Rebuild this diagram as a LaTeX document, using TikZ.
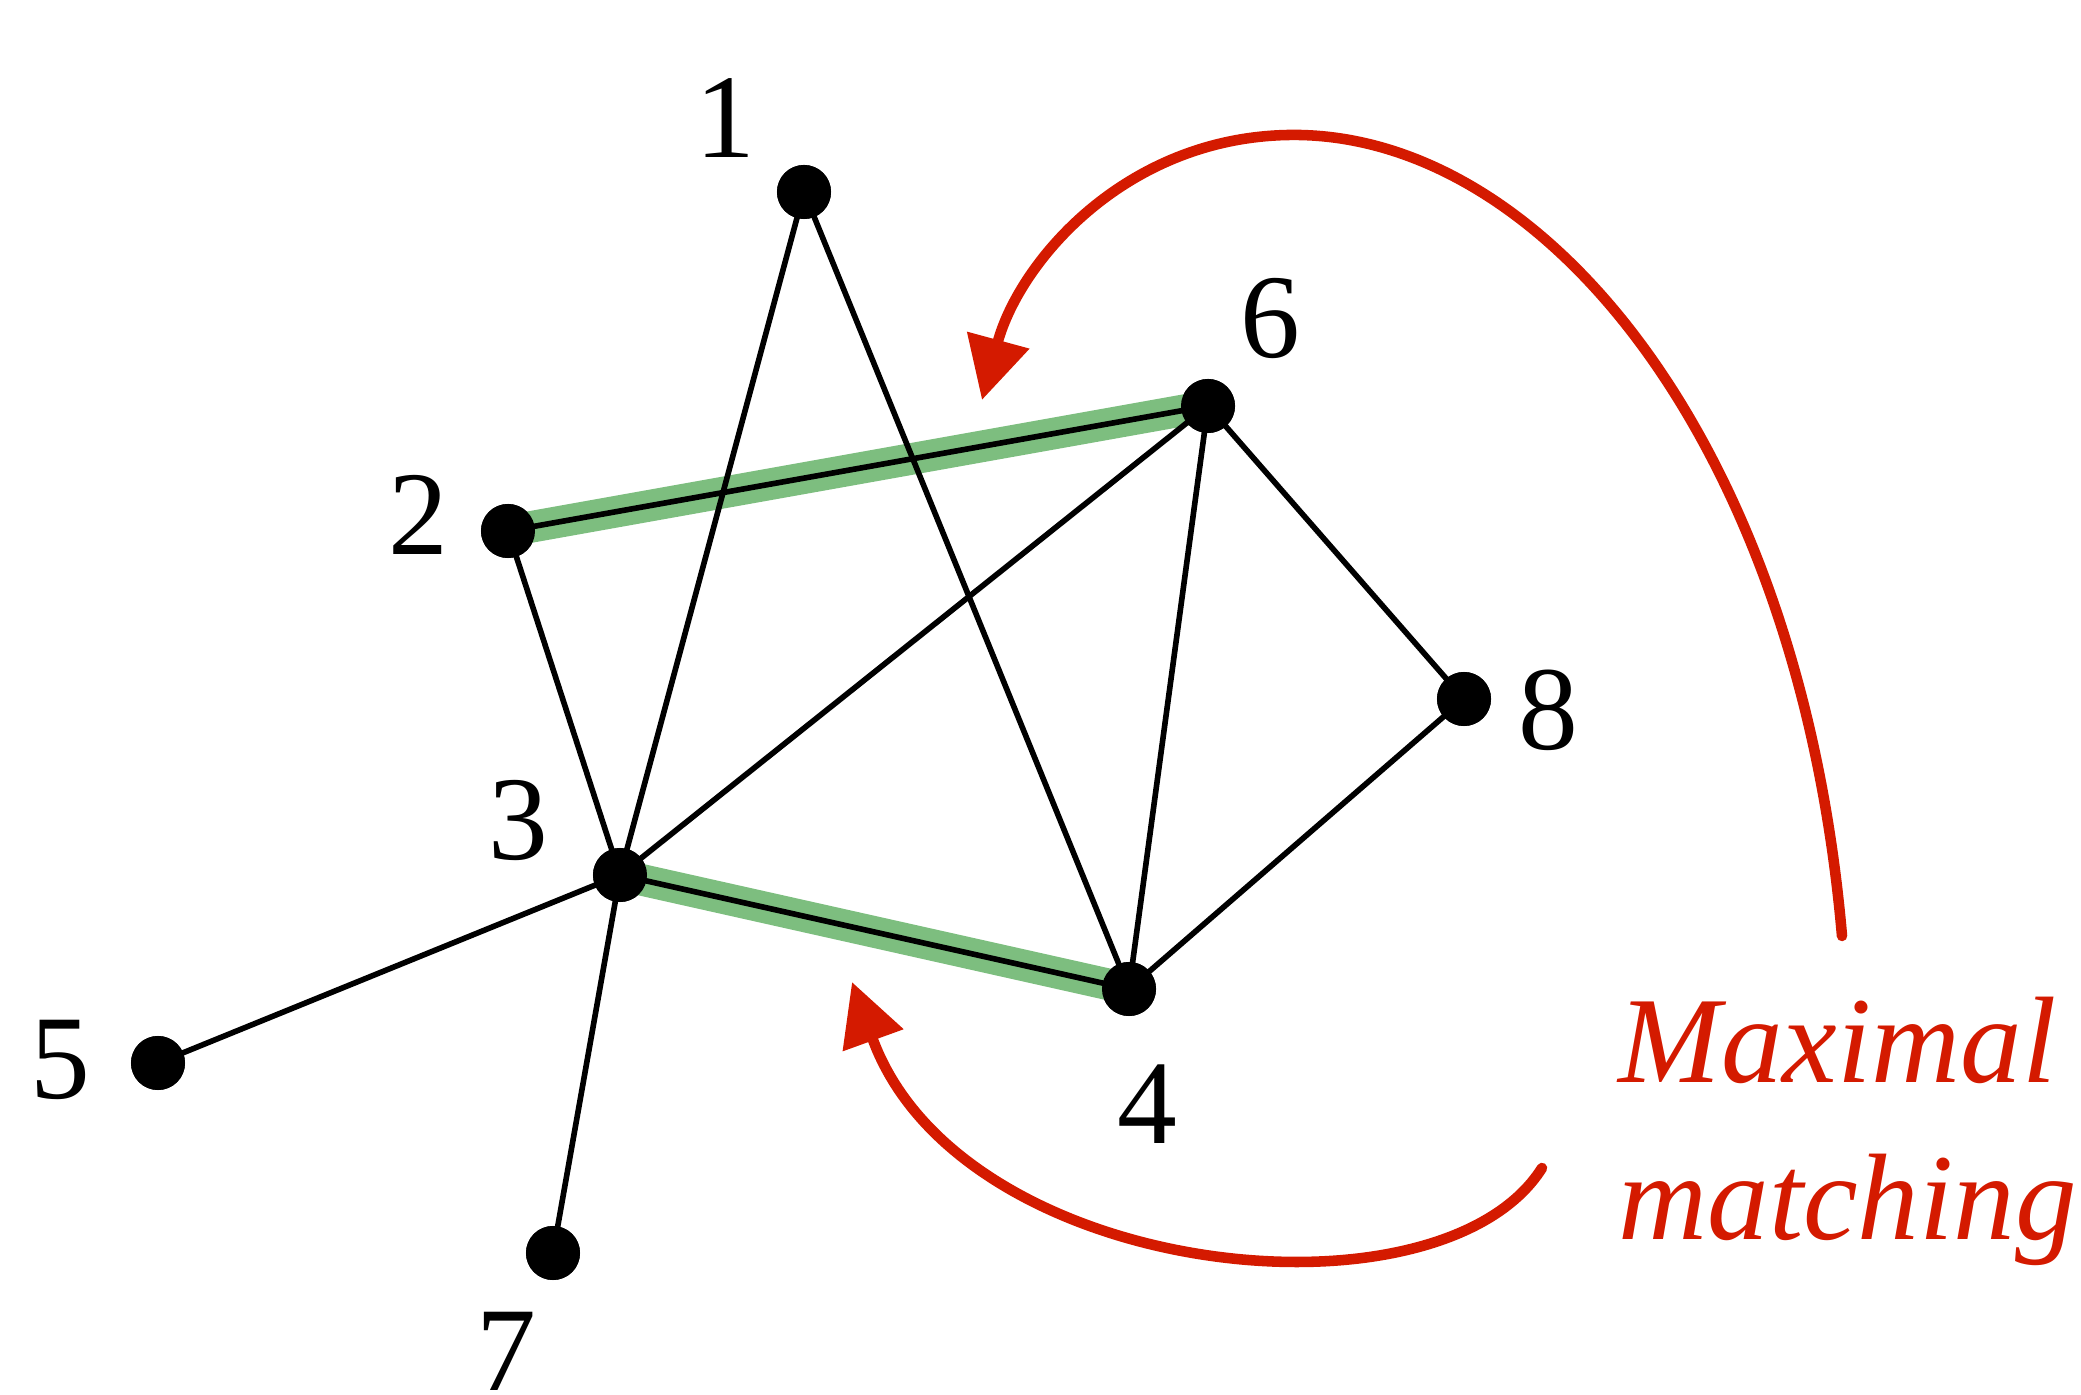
\documentclass[tikz,border=0pt]{standalone}
\usepackage{fontspec}
\setmainfont{Liberation Serif}
\usetikzlibrary{arrows.meta}
\definecolor{matchgreen}{RGB}{125,190,127}
\definecolor{arrowred}{RGB}{212,26,0}
\begin{document}
\begin{tikzpicture}[x=0.01cm,y=-0.01cm,
  vertex/.style={circle,fill=black,inner sep=0pt,minimum size=0.54cm},
  vlabel/.style={anchor=base,inner sep=0pt,font=\fontsize{34}{40}\selectfont},
  edge/.style={line width=1.6pt,black},
  matched/.style={line width=9pt,matchgreen},
  redarrow/.style={line width=3pt,arrowred,line cap=round,-{Triangle[length=0.62cm,width=0.62cm]}},
  caption/.style={anchor=base west,inner sep=0pt,text=arrowred,font=\fontsize{35}{42}\selectfont\itshape}]
\useasboundingbox (0,0) rectangle (2081,1395);
% vertices
\node[vertex] (v1) at (804,192) {};
\node[vertex] (v2) at (508,531) {};
\node[vertex] (v3) at (620,875) {};
\node[vertex] (v4) at (1129,989) {};
\node[vertex] (v5) at (158,1063) {};
\node[vertex] (v6) at (1208,406) {};
\node[vertex] (v7) at (553,1253) {};
\node[vertex] (v8) at (1464,699) {};
% labels
\node[vlabel] (l1) at (725,158) {1};
\node[vlabel] (l2) at (418,555) {2};
\node[vlabel] (l3) at (518,860) {3};
\node[vlabel] (l4) at (1147,1144) {4};
\node[vlabel] (l5) at (60,1099) {5};
\node[vlabel] (l6) at (1270,358) {6};
\node[vlabel] (l7) at (506,1391) {7};
\node[vlabel] (l8) at (1548,750) {8};
% matched edges highlight
\draw[matched] (v2.center) -- (v6.center);
\draw[matched] (v3.center) -- (v4.center);
% edges
\draw[edge] (v1.center) -- (v3.center);
\draw[edge] (v1.center) -- (v4.center);
\draw[edge] (v2.center) -- (v6.center);
\draw[edge] (v2.center) -- (v3.center);
\draw[edge] (v3.center) -- (v6.center);
\draw[edge] (v3.center) -- (v4.center);
\draw[edge] (v3.center) -- (v5.center);
\draw[edge] (v3.center) -- (v7.center);
\draw[edge] (v6.center) -- (v4.center);
\draw[edge] (v6.center) -- (v8.center);
\draw[edge] (v8.center) -- (v4.center);
% redraw vertices on top
\foreach \v in {v1,v2,v3,v4,v5,v6,v7,v8} \fill (\v) circle (0.27cm);
% caption
\node[caption] (t1) at (1618,1083) {Maximal};
\node[caption] (t2) at (1618,1240) {matching};
% arrows
\coordinate (a1s) at (1842,936);
\coordinate (a1e) at (982,400);
\coordinate (a2s) at (1542,1168);
\coordinate (a2e) at (852,982);
\draw[redarrow] (a1s) .. controls (1800,450) and (1550,140) .. (1300,135)
  .. controls (1130,132) and (1020,260) .. (a1e);
\draw[redarrow] (a2s) .. controls (1440,1330) and (960,1280) .. (a2e);
\end{tikzpicture}
\end{document}
